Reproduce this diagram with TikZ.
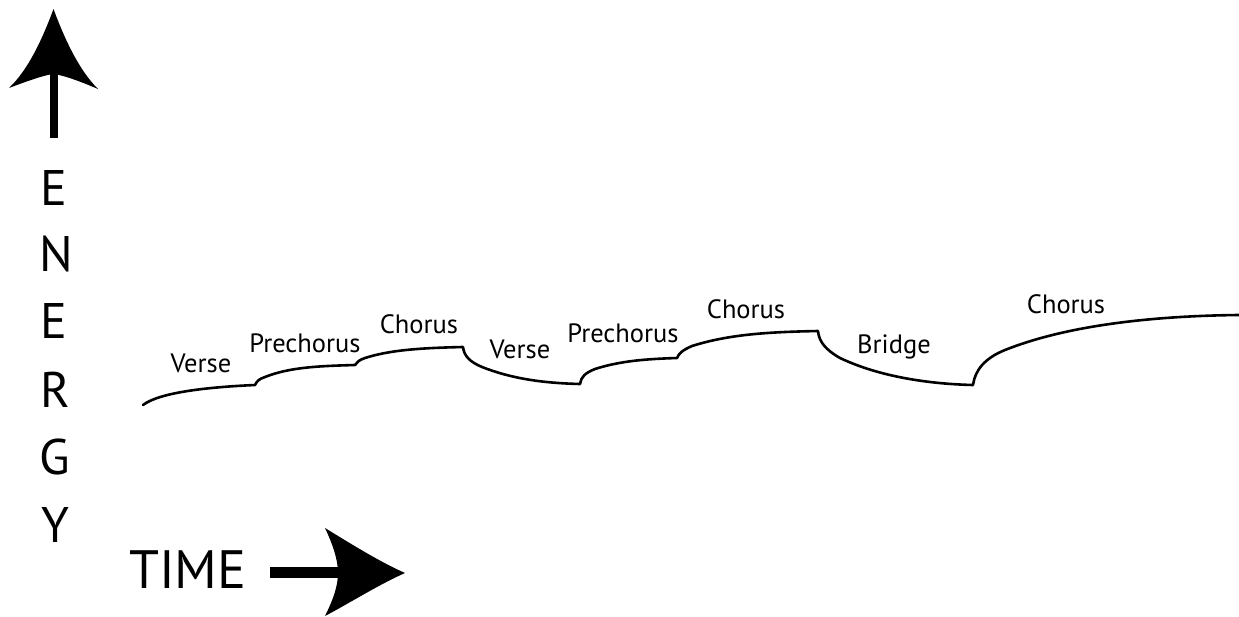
\documentclass[tikz,border=0pt]{standalone}
\usepackage{fontspec}
\setmainfont{PT Sans}
\begin{document}
\begin{tikzpicture}[x=1pt,y=-1pt,
  lbl/.style={inner sep=0pt,anchor=base,font=\fontsize{26.5}{30}\selectfont},
  axl/.style={inner sep=0pt,anchor=base,font=\fontsize{50}{56}\selectfont},
  curve/.style={line width=2.6pt,line join=round,line cap=round}]
\useasboundingbox (0,0) rectangle (1239,616);
% vertical arrow
\fill (49.5,74) rectangle (58,138);
\fill (53.5,9) .. controls (42,40) and (28,70) .. (9,88) .. controls (30,80) and (45,75) .. (53.5,74)
  .. controls (62,75) and (77,80) .. (98,89) .. controls (79,70) and (65,40) .. (53.5,9) -- cycle;
% ENERGY
\node[axl] (e1) at (54,205) {E};
\node[axl] (n1) at (56,271) {N};
\node[axl] (e2) at (54,338) {E};
\node[axl] (r1) at (55,407) {R};
\node[axl] (g1) at (55,474) {G};
\node[axl] (y1) at (55,542) {Y};
% TIME
\node[inner sep=0pt,anchor=base west,font=\fontsize{54}{60}\selectfont] (time) at (129,588) {TIME};
\fill (270,567) rectangle (340,578);
\fill (405,573) .. controls (378,561) and (348,542) .. (325,528) .. controls (333,545) and (338,560) .. (338,573)
  .. controls (338,586) and (333,600) .. (325,616) .. controls (348,604) and (378,585) .. (405,573) -- cycle;
% curve
\draw[curve] (143,405) .. controls (160,392) and (210,387) .. (255,385)
  .. controls (257,381) and (259,379) .. (265,377)
  .. controls (290,367) and (320,366) .. (355,365)
  .. controls (357,362) and (359,360) .. (365,358)
  .. controls (390,350) and (420,348) .. (463,347)
  .. controls (464,356) and (470,362) .. (482,367)
  .. controls (510,378) and (540,383) .. (580,384)
  .. controls (581,377) and (585,373) .. (595,369)
  .. controls (620,361) and (645,359) .. (677,358)
  .. controls (679,353) and (683,350) .. (692,346)
  .. controls (730,334) and (770,332) .. (818,331)
  .. controls (819,342) and (826,350) .. (840,358)
  .. controls (880,377) and (930,384) .. (973,385)
  .. controls (975,370) and (985,358) .. (1005,350)
  .. controls (1060,328) and (1140,316) .. (1239,315);
% labels
\node[lbl] (v1) at (201,372) {Verse};
\node[lbl] (p1) at (305,352) {Prechorus};
\node[lbl] (c1) at (419,333) {Chorus};
\node[lbl] (v2) at (520,358) {Verse};
\node[lbl] (p2) at (623,342) {Prechorus};
\node[lbl] (c2) at (746,318) {Chorus};
\node[lbl] (b1) at (894,353) {Bridge};
\node[lbl] (c3) at (1066,313) {Chorus};
\end{tikzpicture}
\end{document}
